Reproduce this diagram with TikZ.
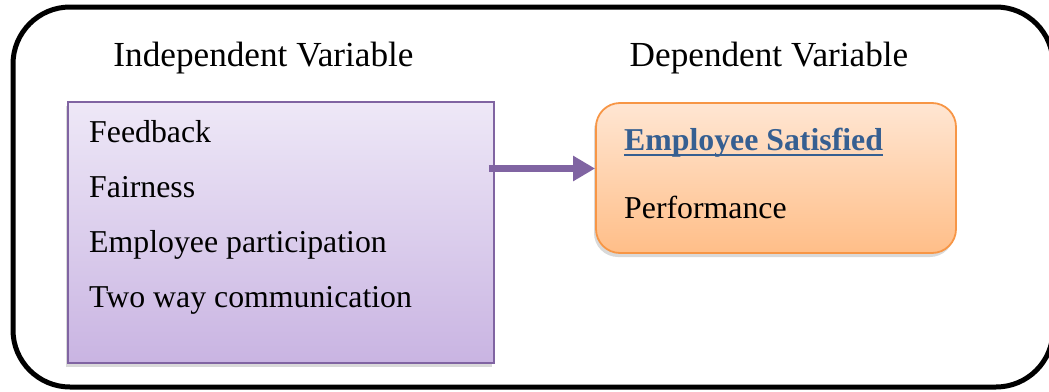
\documentclass[tikz,border=0pt]{standalone}
\usepackage{fontspec}
\setmainfont{Liberation Serif}
\usetikzlibrary{arrows.meta,shadows}
\definecolor{ivline}{HTML}{8064A2}
\definecolor{ivtop}{HTML}{EEE8F7}
\definecolor{ivbot}{HTML}{C9B4E2}
\definecolor{dvline}{HTML}{F79646}
\definecolor{dvtop}{HTML}{FFE6D3}
\definecolor{dvbot}{HTML}{FFBE88}
\definecolor{headblue}{HTML}{365F91}
\tikzset{
  heading/.style={anchor=base, inner sep=0pt, font=\fontsize{35.2}{40}\selectfont},
  item/.style={anchor=base west, inner sep=0pt, font=\fontsize{31.8}{38}\selectfont},
  boxshadow/.style={drop shadow={shadow xshift=-2pt, shadow yshift=-4pt, opacity=0.25, fill=black!60}},
  ivbox/.style={draw=ivline, line width=1.8pt, top color=ivtop, bottom color=ivbot,
    minimum width=426pt, minimum height=261pt, inner sep=0pt, boxshadow},
  dvbox/.style={draw=dvline, line width=1.8pt, top color=dvtop, bottom color=dvbot,
    rounded corners=24pt, minimum width=360pt, minimum height=150pt, inner sep=0pt, boxshadow},
  flow/.style={draw=ivline, line width=7pt, -{Triangle[length=22pt,width=24pt]}}
}
\begin{document}
\begin{tikzpicture}[x=1pt,y=-1pt]
\useasboundingbox (0,0) rectangle (1049,391);
\clip (0,0) rectangle (1049,391);

% outer frame, running off the right edge
\draw[line width=5pt, rounded corners=57pt] (13,7) rectangle (1053,387);

% column headings
\node[heading] (ivhead) at (263.5,66) {Independent Variable};
\node[heading] (dvhead) at (769,66) {Dependent Variable};

% independent variables
\node[ivbox] (ivbox) at (281,232.5) {};
\node[item] (fb) at (89,142) {Feedback};
\node[item] (fa) at (89,197) {Fairness};
\node[item] (ep) at (89,252) {Employee participation};
\node[item] (tw) at (89,307) {Two way communication};

% dependent variables
\node[dvbox] (dvbox) at (776,178) {};
\node[item, text=headblue, font=\fontsize{31.8}{38}\selectfont\bfseries] (es) at (624,150) {Employee Satisfied};
\draw[headblue, line width=2.6pt] ([yshift=-5pt]es.base west) -- ([yshift=-5pt]es.base east);
\node[item] (pf) at (624,218) {Performance};

% link between the two groups
\coordinate (tip) at ([yshift=9.5pt]dvbox.west);
\draw[flow] ([xshift=-6pt]ivbox.east |- tip) -- (tip);
\end{tikzpicture}
\end{document}
